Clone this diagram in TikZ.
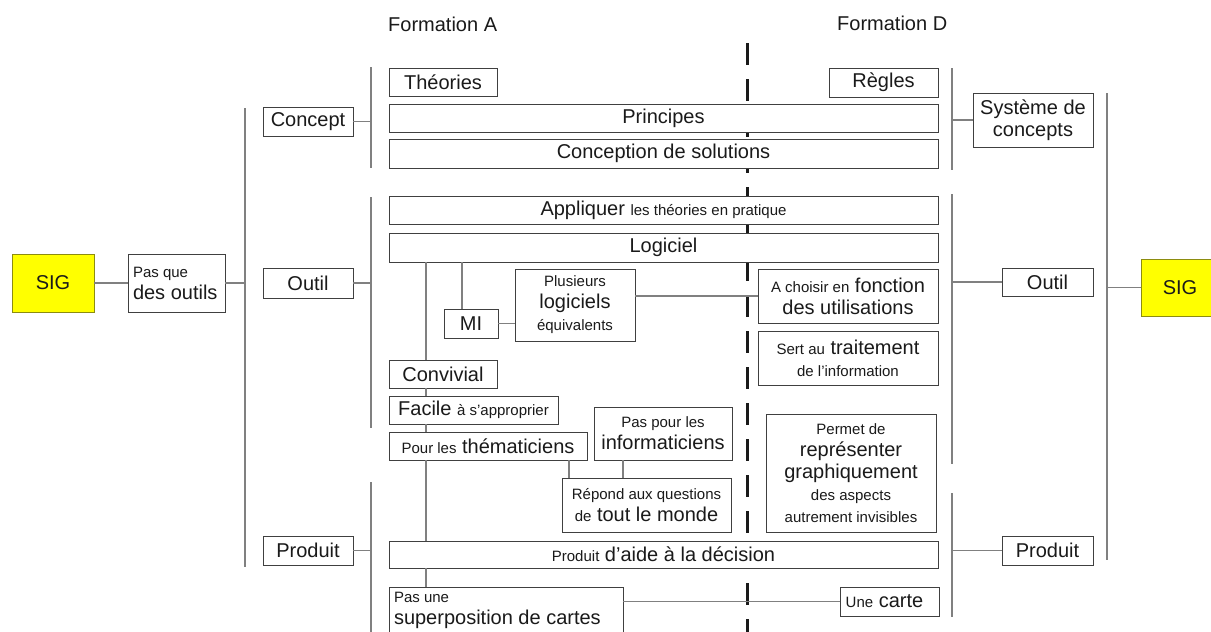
\documentclass[tikz,border=0pt]{standalone}
\usepackage{fontspec}
\setmainfont{Liberation Sans}
\usetikzlibrary{calc}
\newcommand\fB{\fontsize{20}{22}\selectfont}
\newcommand\fS{\fontsize{15}{22}\selectfont}
\definecolor{sigyellow}{HTML}{FFFF00}
\definecolor{sigborder}{HTML}{8C8C10}
\definecolor{boxline}{HTML}{404040}
\definecolor{connline}{HTML}{808080}
\definecolor{txt}{HTML}{1A1A1A}
\begin{document}
\begin{tikzpicture}[x=1pt,y=-1pt,
  bx/.style={draw=boxline, line width=1pt, fill=white, inner sep=0pt, outer sep=0pt,
    anchor=north west, align=center, text=txt, font=\fB},
  wh/.style 2 args={minimum width=#1, minimum height=#2},
  lbox/.style={bx, align=flush left, inner xsep=5pt},
  sigbox/.style={bx, fill=sigyellow, draw=sigborder},
  ln/.style={draw=connline, line width=1.3pt},
  dashln/.style={draw=txt, line width=3pt, dash pattern=on 22pt off 14pt},
  lbl/.style={anchor=west, text=txt, font=\fB, inner sep=0pt}
]
\useasboundingbox (0,0) rectangle (1211,632);
\fill[white] (0,0) rectangle (1211,632);
\clip (0,0) rectangle (1211,632);

% coordinates for spines
\coordinate (sL1) at (245,108); \coordinate (sL2) at (245,567);
\coordinate (sA1) at (371,67);  \coordinate (sA2) at (371,168);
\coordinate (sB1) at (371,197); \coordinate (sB2) at (371,428);
\coordinate (sC1) at (371,482); \coordinate (sC2) at (371,640);
\coordinate (rA1) at (952,68);  \coordinate (rA2) at (952,170);
\coordinate (rB1) at (952,194); \coordinate (rB2) at (952,464);
\coordinate (rC1) at (952,493); \coordinate (rC2) at (952,617);
\coordinate (fR1) at (1107,93); \coordinate (fR2) at (1107,560);
\coordinate (dT) at (747,43);   \coordinate (dB) at (747,640);
\coordinate (cx) at (426,0); \coordinate (mx) at (462,0);
\coordinate (px) at (569,0); \coordinate (qx) at (623,0);

% labels
\node[lbl] (fa) at (388,24) {Formation A};
\node[lbl] (fd) at (837,23) {Formation D};

% dashed separator
\draw[dashln] (dT) -- (dB);

% spines
\draw[ln] (sL1) -- (sL2);
\draw[ln] (sA1) -- (sA2);
\draw[ln] (sB1) -- (sB2);
\draw[ln] (sC1) -- (sC2);
\draw[ln] (rA1) -- (rA2);
\draw[ln] (rB1) -- (rB2);
\draw[ln] (rC1) -- (rC2);
\draw[ln] (fR1) -- (fR2);

% boxes
\node[sigbox, wh={82}{58}] (sigL) at (12,254) {SIG};
\node[lbox, text width=87pt, minimum height=58] (pasque) at (128,254) {{\fS Pas que}\\des outils};
\node[bx, wh={90}{29}] (concept) at (263,107) {Concept};
\node[bx, wh={90}{30}] (outilL) at (263,268) {Outil};
\node[bx, wh={90}{29}] (produitL) at (263,536) {Produit};
\node[bx, wh={108}{28}] (theo) at (389,68) {Théories};
\node[bx, wh={549}{28}] (princ) at (389,104) {Principes};
\node[bx, wh={549}{29}] (concep) at (389,139) {Conception de solutions};
\node[bx, wh={549}{28}] (appl) at (389,196) {Appliquer {\fS les théories en pratique}};
\node[bx, wh={549}{29}] (logi) at (389,233) {Logiciel};
\node[bx, wh={109}{29}] (regles) at (829,68) {Règles};
\node[bx, wh={120}{72}] (plus) at (515,269) {{\fS Plusieurs}\\logiciels\\{\fS équivalents}};
\node[bx, wh={180}{54}] (achoisir) at (758,269) {{\fS A choisir en} fonction\\des utilisations};
\node[bx, wh={54}{29}] (mi) at (444,309) {MI};
\node[bx, wh={180}{54}] (sert) at (758,331) {{\fS Sert au} traitement\\{\fS de l’information}};
\node[bx, wh={108}{28}] (conv) at (389,360) {Convivial};
\node[bx, wh={169}{28}] (facile) at (389,396) {Facile {\fS à s’approprier}};
\node[bx, wh={198}{28}] (pour) at (389,432) {{\fS Pour les} thématiciens};
\node[bx, wh={138}{53}] (paspour) at (594,407) {{\fS Pas pour les}\\informaticiens};
\node[bx, wh={169}{54}] (repond) at (562,478) {{\fS Répond aux questions}\\{\fS de} tout le monde};
\node[bx, wh={170}{118}] (permet) at (766,414) {{\fS Permet de}\\représenter\\graphiquement\\{\fS des aspects}\\{\fS autrement invisibles}};
\node[bx, wh={549}{27}] (prodaide) at (389,541) {{\fS Produit} d’aide à la décision};
\node[lbox, text width=224pt, minimum height=47] (pasune) at (389,587) {{\fS Pas une}\\superposition de cartes};
\node[bx, wh={99}{29}] (unecarte) at (840,587) {{\fS Une} carte\hspace*{10pt}};
\node[bx, wh={120}{54}] (syst) at (973,93) {Système de\\concepts};
\node[bx, wh={91}{28}] (outilR) at (1002,268) {Outil};
\node[bx, wh={91}{29}] (produitR) at (1002,536) {Produit};
\node[sigbox, wh={78}{57}] (sigR) at (1141,259) {SIG};

% connectors
\draw[ln] (sigL) -- (pasque);
\draw[ln] (pasque.east) -- (pasque.east -| sL1);
\draw[ln] (concept.east) -- (concept.east -| sA1);
\draw[ln] (outilL.east) -- (outilL.east -| sB1);
\draw[ln] (produitL.east) -- (produitL.east -| sC1);
\draw[ln] (logi.south -| cx) -- (conv.north -| cx);
\draw[ln] (conv.south -| cx) -- (facile.north -| cx);
\draw[ln] (facile.south -| cx) -- (pour.north -| cx);
\draw[ln] (pour.south -| cx) -- (prodaide.north -| cx);
\draw[ln] (prodaide.south -| cx) -- (pasune.north -| cx);
\draw[ln] (logi.south -| mx) -- (mi.north -| mx);
\draw[ln] (mi.east) -- (mi.east -| plus.west);
\draw[ln] (achoisir.west -| plus.east) -- (achoisir.west);
\draw[ln] (pour.south -| px) -- (repond.north -| px);
\draw[ln] (paspour.south -| qx) -- (repond.north -| qx);
\draw[ln] (unecarte.west -| pasune.east) -- (unecarte.west);
\draw[ln] (syst.west) -- (syst.west -| rA1);
\draw[ln] (outilR.west) -- (outilR.west -| rB1);
\draw[ln] (produitR.west) -- (produitR.west -| rC1);
\draw[ln] (sigR.west) -- (sigR.west -| fR1);
\end{tikzpicture}
\end{document}
